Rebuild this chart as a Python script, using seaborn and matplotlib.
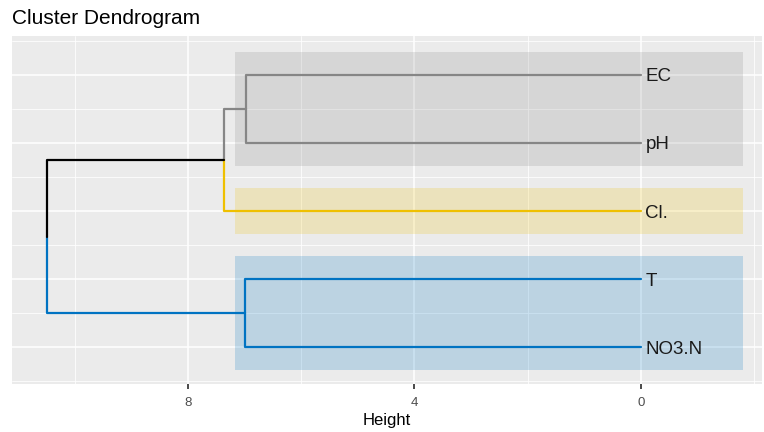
import pandas as pd
import matplotlib.pyplot as plt
import seaborn as sns
from matplotlib.patches import Rectangle

# leaves, bottom to top
leaf_labels = ["NO3.N", "T", "Cl.", "pH", "EC"]
leaf_group = ["blue", "blue", "yellow", "grey", "grey"]
# merges (hclust style) and their heights
merge_pairs = [("EC", "pH"), ("T", "NO3.N"), ("EC+pH", "Cl."), ("EC+pH+Cl.", "T+NO3.N")]
merge_heights = [6.98, 6.99, 7.36, 10.5]

group_colors = {"grey": "#868686", "yellow": "#EFC000", "blue": "#0073C2", "mixed": "#000000"}

sns.set_theme(style="darkgrid", rc={
    "axes.facecolor": "#EBEBEB",
    "grid.color": "white",
    "axes.edgecolor": "#EBEBEB",
})
plt.rcParams["font.family"] = ["Liberation Sans", "DejaVu Sans"]

# positions and colours of nodes
node_y = {lab: i + 1 for i, lab in enumerate(leaf_labels)}
node_h = {lab: 0.0 for lab in leaf_labels}
node_g = dict(zip(leaf_labels, leaf_group))

rows = []
seg = 0
for (a, b), h in zip(merge_pairs, merge_heights):
    name = a + "+" + b
    node_y[name] = (node_y[a] + node_y[b]) / 2
    node_h[name] = h
    node_g[name] = node_g[a] if node_g[a] == node_g[b] else "mixed"
    for child in (a, b):
        g = node_g[child]
        pts = [(h, node_y[name]), (h, node_y[child]), (node_h[child], node_y[child])]
        for x, y in pts:
            rows.append({"x": x, "y": y, "seg": seg, "group": g})
        seg += 1
segs = pd.DataFrame(rows)

fig = plt.figure(figsize=(7.64, 4.32), dpi=100)
ax = fig.add_axes([12 / 764, 1 - 384 / 432, 750 / 764, 348 / 432])

# cluster rectangles
for g in ["grey", "yellow", "blue"]:
    ys = [node_y[l] for l, gg in zip(leaf_labels, leaf_group) if gg == g]
    ax.add_patch(Rectangle((7.17, min(ys) - 0.34), -1.8 - 7.17, max(ys) - min(ys) + 0.68,
                           facecolor=group_colors[g], alpha=0.2, edgecolor="none", zorder=1))

sns.lineplot(data=segs, x="x", y="y", units="seg", hue="group", palette=group_colors,
             estimator=None, sort=False, legend=False, linewidth=1.6, ax=ax, zorder=3)

for lab in leaf_labels:
    ax.text(-0.08, node_y[lab] - 0.03, lab, va="center", ha="left", fontsize=13.5, color="#1a1a1a", zorder=4)

ax.set_xlim(11.11, -2.14)
ax.set_ylim(0.46, 5.57)
ax.set_xticks([8, 4, 0])
ax.set_xticks([10, 6, 2, -2], minor=True)
ax.set_yticks([1, 2, 3, 4, 5])
ax.set_yticks([0.5, 1.5, 2.5, 3.5, 4.5, 5.5], minor=True)
ax.set_yticklabels([])
ax.grid(which="major", color="white", linewidth=1.1)
ax.grid(which="minor", color="white", linewidth=0.55)
ax.tick_params(axis="x", which="major", length=3.5, color="#333333", labelsize=9.5,
               labelcolor="#4D4D4D", pad=6, bottom=True)
ax.tick_params(axis="x", which="minor", length=0)
ax.tick_params(axis="y", which="both", length=0)
ax.set_xlabel("Height", fontsize=12, color="black", labelpad=2.5)
ax.set_ylabel("")
for s in ax.spines.values():
    s.set_visible(False)

fig.text(12 / 764, 1 - 18 / 432, "Cluster Dendrogram", fontsize=15, color="black", va="center", ha="left")

fig.savefig("out.png", dpi=100)
